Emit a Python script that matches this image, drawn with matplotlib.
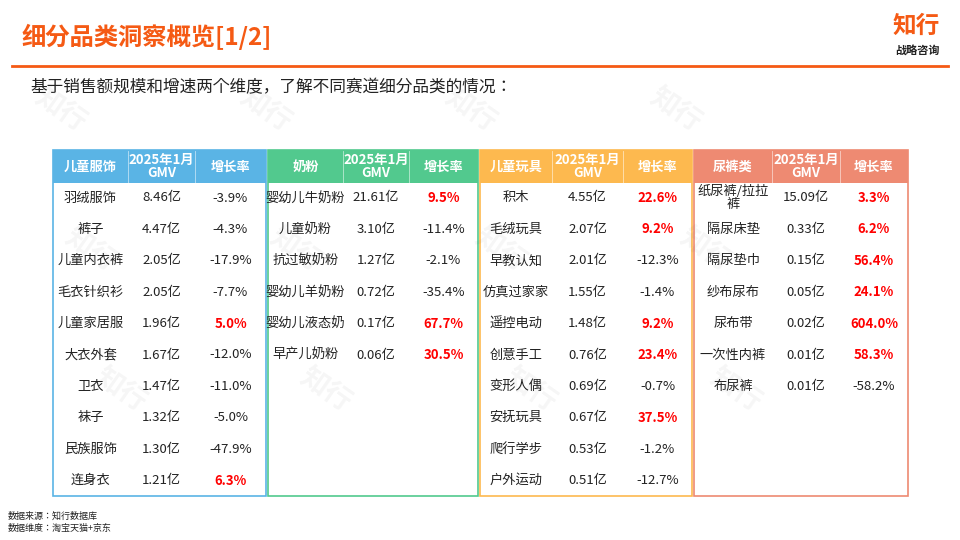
import matplotlib
matplotlib.use("Agg")
import matplotlib.pyplot as plt
from matplotlib.patches import Rectangle

plt.rcParams["font.family"] = ["Noto Sans CJK JP", "Noto Sans CJK SC", "DejaVu Sans"]

title = "细分品类洞察概览[1/2]"
subtitle = "基于销售额规模和增速两个维度，了解不同赛道细分品类的情况："
col_head = ["2025年1月\nGMV", "增长率"]

cat1 = "儿童服饰"
names1 = ["羽绒服饰", "裤子", "儿童内衣裤", "毛衣针织衫", "儿童家居服", "大衣外套", "卫衣", "袜子", "民族服饰", "连身衣"]
gmv1 = [8.46, 4.47, 2.05, 2.05, 1.96, 1.67, 1.47, 1.32, 1.30, 1.21]
gr1 = [-3.9, -4.3, -17.9, -7.7, 5.0, -12.0, -11.0, -5.0, -47.9, 6.3]

cat2 = "奶粉"
names2 = ["婴幼儿牛奶粉", "儿童奶粉", "抗过敏奶粉", "婴幼儿羊奶粉", "婴幼儿液态奶", "早产儿奶粉"]
gmv2 = [21.61, 3.10, 1.27, 0.72, 0.17, 0.06]
gr2 = [9.5, -11.4, -2.1, -35.4, 67.7, 30.5]

cat3 = "儿童玩具"
names3 = ["积木", "毛绒玩具", "早教认知", "仿真过家家", "遥控电动", "创意手工", "变形人偶", "安抚玩具", "爬行学步", "户外运动"]
gmv3 = [4.55, 2.07, 2.01, 1.55, 1.48, 0.76, 0.69, 0.67, 0.53, 0.51]
gr3 = [22.6, 9.2, -12.3, -1.4, 9.2, 23.4, -0.7, 37.5, -1.2, -12.7]

cat4 = "尿裤类"
names4 = ["纸尿裤/拉拉\n裤", "隔尿床垫", "隔尿垫巾", "纱布尿布", "尿布带", "一次性内裤", "布尿裤"]
gmv4 = [15.09, 0.33, 0.15, 0.05, 0.02, 0.01, 0.01]
gr4 = [3.3, 6.2, 56.4, 24.1, 604.0, 58.3, -58.2]

W, H = 960, 540
fig = plt.figure(figsize=(9.6, 5.4), dpi=100)
fig.patch.set_facecolor("white")
ax = fig.add_axes([0, 0, 1, 1])
ax.set_xlim(0, W); ax.set_ylim(H, 0); ax.axis("off")

ORANGE = "#F55A14"
# watermarks
for wx in range(60, 880, 205):
    for wy in (110, 250, 390):
        ax.text(wx + (wy // 140) * 30, wy, "知行", fontsize=20, fontweight="bold", color="#000000",
                alpha=0.04, rotation=-35, ha="center", va="center")

ax.text(22, 37, title, fontsize=17.5, fontweight="bold", color=ORANGE, va="center", ha="left")
ax.text(940, 26, "知行", fontsize=17, fontweight="bold", color=ORANGE, va="center", ha="right")
ax.text(940, 50, "战略咨询", fontsize=8, fontweight="bold", color="#222222", va="center", ha="right")
ax.plot([12, 948], [66, 66], color=ORANGE, lw=2)
ax.text(30, 88, subtitle, fontsize=12, color="#222222", va="center", ha="left")

tables = [
    (cat1, names1, gmv1, gr1, "#5AB4E5", [53, 128, 195, 266]),
    (cat2, names2, gmv2, gr2, "#52C98E", [268, 343, 409, 478]),
    (cat3, names3, gmv3, gr3, "#FDB94F", [480, 552, 623, 692]),
    (cat4, names4, gmv4, gr4, "#EE8A72", [694, 772, 840, 908]),
]
top, hb, bottom, pitch, r0 = 150, 183, 496, 31.4, 198
FS = 9.5

for cat, names, gmv, gr, col, xs in tables:
    ax.add_patch(Rectangle((xs[0], top), xs[3] - xs[0], hb - top, facecolor=col, edgecolor="none"))
    ax.add_patch(Rectangle((xs[0], top), xs[3] - xs[0], bottom - top, facecolor="none", edgecolor=col, lw=1.2))
    for x in xs[1:3]:
        ax.plot([x, x], [top + 1, hb], color="white", lw=0.6, alpha=0.6)
    cx = [(xs[i] + xs[i + 1]) / 2 for i in range(3)]
    ax.text(cx[0], (top + hb) / 2, cat, color="white", fontsize=FS, fontweight="bold", ha="center", va="center")
    ax.text(cx[1], (top + hb) / 2, col_head[0], color="white", fontsize=FS, fontweight="bold", ha="center", va="center", linespacing=0.95)
    ax.text(cx[2], (top + hb) / 2, col_head[1], color="white", fontsize=FS, fontweight="bold", ha="center", va="center")
    for i, (n, g, r) in enumerate(zip(names, gmv, gr)):
        y = r0 + i * pitch
        ax.text(cx[0], y, n, fontsize=FS, color="#222222", ha="center", va="center", linespacing=1.05)
        ax.text(cx[1], y, f"{g:.2f}亿", fontsize=FS, color="#222222", ha="center", va="center")
        pos = r > 0
        ax.text(cx[2], y, f"{r:.1f}%", fontsize=FS, color="#FF0000" if pos else "#222222",
                fontweight="bold" if pos else "normal", ha="center", va="center")

ax.text(8, 516, "数据来源：知行数据库", fontsize=6.5, color="#222222", va="center")
ax.text(8, 528, "数据维度：淘宝天猫+京东", fontsize=6.5, color="#222222", va="center")

fig.savefig("out.png", dpi=100)
